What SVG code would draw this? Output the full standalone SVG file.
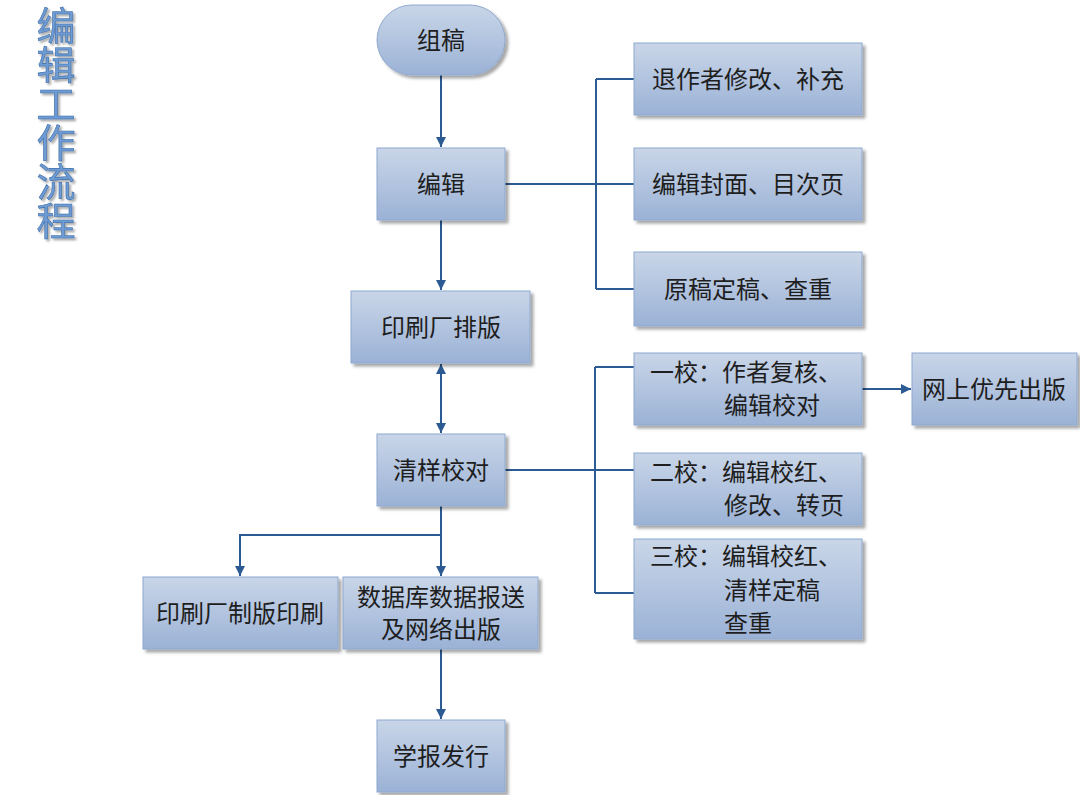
<svg xmlns="http://www.w3.org/2000/svg" width="1080" height="795" viewBox="0 0 1080 795">
<defs>
<linearGradient id="g" x1="0" y1="0" x2="0" y2="1">
<stop offset="0" stop-color="#c9d6e8"/>
<stop offset="1" stop-color="#9bb2d6"/>
</linearGradient>
<filter id="sh" x="-10%" y="-10%" width="130%" height="140%">
<feDropShadow dx="3" dy="3" stdDeviation="1.5" flood-color="#000" flood-opacity="0.35"/>
</filter>
<filter id="tsh" x="-20%" y="-20%" width="150%" height="150%">
<feDropShadow dx="2" dy="2" stdDeviation="1.2" flood-color="#000" flood-opacity="0.35"/>
</filter>
<marker id="ah" viewBox="0 0 10 10" refX="10" refY="5" markerWidth="10" markerHeight="10" markerUnits="userSpaceOnUse" orient="auto-start-reverse">
<path d="M0,0 L10,5 L0,10 z" fill="#2c5a92"/>
</marker>
</defs>
<style>
.box{fill:url(#g);stroke:#8ea8cf;stroke-width:1;filter:url(#sh)}
.t{font-family:"Noto Sans CJK SC","Noto Sans CJK TC",sans-serif;font-size:24px;fill:#1e1e1e;dominant-baseline:central}
.c{text-anchor:middle}
.ln{fill:none;stroke:#2c5a92;stroke-width:2}
.title{font-family:"Noto Sans CJK SC",sans-serif;font-size:39px;fill:#6e9bd3;stroke:#3f6ea8;stroke-width:0.6;filter:url(#tsh);writing-mode:vertical-rl}
</style>
<rect width="1080" height="795" fill="#fff"/>
<g id="title">
<text class="title" x="56" y="6">编辑工作流程</text>
</g>
<g id="connectors">
<line class="ln" x1="441" y1="75" x2="441" y2="147" marker-end="url(#ah)"/>
<line class="ln" x1="441" y1="220" x2="441" y2="290" marker-end="url(#ah)"/>
<line class="ln" x1="441" y1="364" x2="441" y2="433" marker-start="url(#ah)" marker-end="url(#ah)"/>
<path class="ln" d="M505,184 H596 M596,79 V289 M596,79 H634 M596,184 H634 M596,289 H634"/>
<path class="ln" d="M505,470 H595 M595,367 V593 M595,367 H634 M595,470 H634 M595,593 H634"/>
<line class="ln" x1="862" y1="389" x2="911" y2="389" marker-end="url(#ah)"/>
<line class="ln" x1="441" y1="506" x2="441" y2="576" marker-end="url(#ah)"/>
<path class="ln" d="M441,535 H240 V576" marker-end="url(#ah)"/>
<line class="ln" x1="441" y1="649" x2="441" y2="719" marker-end="url(#ah)"/>
</g>
<g id="n_zugao"><rect class="box" x="377" y="5" width="128" height="70" rx="35"/><text class="t c" x="441" y="38">组稿</text></g>
<g id="n_bianji"><rect class="box" x="377" y="148" width="128" height="72"/><text class="t c" x="441" y="182">编辑</text></g>
<g id="n_paiban"><rect class="box" x="351" y="291" width="179" height="72"/><text class="t c" x="441" y="325">印刷厂排版</text></g>
<g id="n_jiaodui"><rect class="box" x="377" y="434" width="128" height="72"/><text class="t c" x="441" y="468">清样校对</text></g>
<g id="n_tui"><rect class="box" x="634" y="43" width="228" height="72"/><text class="t c" x="748" y="77">退作者修改、补充</text></g>
<g id="n_fengmian"><rect class="box" x="634" y="148" width="228" height="72"/><text class="t c" x="748" y="182">编辑封面、目次页</text></g>
<g id="n_dinggao"><rect class="box" x="634" y="252" width="228" height="74"/><text class="t c" x="748" y="287">原稿定稿、查重</text></g>
<g id="n_yijiao"><rect class="box" x="634" y="353" width="228" height="72"/><text class="t" x="650" y="370">一校：作者复核、</text><text class="t" x="724" y="403">编辑校对</text></g>
<g id="n_wangshang"><rect class="box" x="912" y="353" width="165" height="72"/><text class="t c" x="994" y="387">网上优先出版</text></g>
<g id="n_erjiao"><rect class="box" x="634" y="453" width="228" height="72"/><text class="t" x="650" y="470">二校：编辑校红、</text><text class="t" x="724" y="503">修改、转页</text></g>
<g id="n_sanjiao"><rect class="box" x="634" y="539" width="228" height="100"/><text class="t" x="650" y="554">三校：编辑校红、</text><text class="t" x="724" y="588">清样定稿</text><text class="t" x="724" y="621">查重</text></g>
<g id="n_yinshua"><rect class="box" x="143" y="577" width="195" height="72"/><text class="t c" x="240" y="611">印刷厂制版印刷</text></g>
<g id="n_shujuku"><rect class="box" x="343" y="577" width="195" height="72"/><text class="t c" x="441" y="595">数据库数据报送</text><text class="t c" x="441" y="627">及网络出版</text></g>
<g id="n_faxing"><rect class="box" x="377" y="720" width="128" height="72"/><text class="t c" x="441" y="754">学报发行</text></g>
</svg>
